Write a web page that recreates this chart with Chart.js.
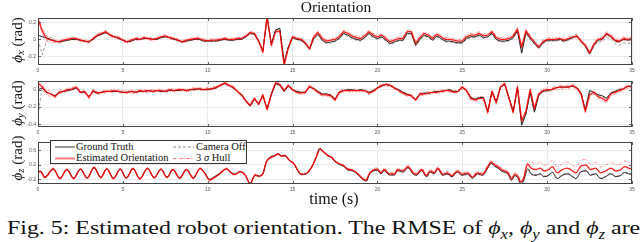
<!DOCTYPE html>
<html><head><meta charset="utf-8">
<script src="https://cdn.jsdelivr.net/npm/chart.js@4"></script>
<style>
html,body{margin:0;padding:0;background:#fff;}
body{width:640px;height:242px;position:relative;overflow:hidden;font-family:"Liberation Serif","DejaVu Serif",serif;color:#111;}
canvas{position:absolute;left:0;}
.t{position:absolute;white-space:nowrap;line-height:1;}
.yl{position:absolute;white-space:nowrap;line-height:1;font-size:15px;transform:translate(-50%,-50%) rotate(-90deg);}
.yl sub{font-size:72%;vertical-align:-0.25em;}
#leg{position:absolute;left:50px;top:140px;width:195px;height:22px;border:1px solid #333;background:#fff;}
#leg .it{position:absolute;font-size:10.5px;line-height:12px;white-space:nowrap;}
#leg svg{position:absolute;}
</style>
</head><body>
<canvas id="c1" width="640" height="64" style="top:12px"></canvas>
<canvas id="c2" width="640" height="61" style="top:76px"></canvas>
<canvas id="c3" width="640" height="57" style="top:137px"></canvas>

<div class="t" id="title" style="left:336px;top:-1px;font-size:15.5px;transform:translateX(-50%)">Orientation</div>
<div class="yl" style="left:18px;top:40px"><i>ϕ</i><sub><i>x</i></sub> (rad)</div>
<div class="yl" style="left:18px;top:103px"><i>ϕ</i><sub><i>y</i></sub> (rad)</div>
<div class="yl" style="left:18px;top:158px"><i>ϕ</i><sub><i>z</i></sub> (rad)</div>
<div class="t" id="xlab" style="left:334px;top:191px;font-size:16px;transform:translateX(-50%)">time (s)</div>
<div class="t" id="cap" style="left:7px;top:218px;font-size:19.5px;transform:scaleX(1.225);transform-origin:0 0">Fig. 5: Estimated robot orientation. The RMSE of <i>ϕ<sub style="font-size:70%">x</sub></i>, <i>ϕ<sub style="font-size:70%">y</sub></i> and <i>ϕ<sub style="font-size:70%">z</sub></i> are</div>

<div id="leg">
  <svg style="left:4px;top:5px" width="20" height="2"><line x1="0" y1="1" x2="20" y2="1" stroke="#333" stroke-width="1"/></svg>
  <div class="it" style="left:25px;top:0px">Ground Truth</div>
  <svg style="left:122px;top:5px" width="21" height="2"><line x1="0" y1="1" x2="21" y2="1" stroke="#888" stroke-width="1" stroke-dasharray="3,2"/></svg>
  <div class="it" style="left:145px;top:0px">Camera Off</div>
  <svg style="left:4px;top:16px" width="20" height="3"><line x1="0" y1="1.5" x2="20" y2="1.5" stroke="rgba(255,40,40,0.6)" stroke-width="2"/></svg>
  <div class="it" style="left:25px;top:11px">Estimated Orientation</div>
  <svg style="left:122px;top:16px" width="21" height="3"><line x1="0" y1="1.5" x2="21" y2="1.5" stroke="rgba(255,60,60,0.75)" stroke-width="1" stroke-dasharray="3,1.5,1,1.5"/></svg>
  <div class="it" style="left:145px;top:11px">3 <i>σ</i> Hull</div>
</div>

<script>
// ---------- data ----------
const T = [0,0.25,0.5,0.75, 1,1.25,1.5,1.75, 2,2.25,2.5,2.75, 3,3.25,3.5,3.75, 4,4.25,4.5,4.75,
 5,5.25,5.5,5.75, 6,6.25,6.5,6.75, 7,7.25,7.5,7.75, 8,8.25,8.5,8.75, 9,9.25,9.5,9.75,
 10,10.25,10.5,10.75, 11,11.25,11.5,11.75, 12,12.25,12.5,12.75, 13,13.25,13.5,13.75, 14,14.25,14.5,14.75,
 15,15.25,15.5,15.75, 16,16.25,16.5,16.75, 17,17.25,17.5,17.75, 18,18.25,18.5,18.75, 19,19.25,19.5,19.75,
 20,20.25,20.5,20.75, 21,21.25,21.5,21.75, 22,22.25,22.5,22.75, 23,23.25,23.5,23.75, 24,24.25,24.5,24.75,
 25,25.25,25.5,25.75, 26,26.25,26.5,26.75, 27,27.25,27.5,27.75, 28,28.25,28.5,28.75, 29,29.25,29.5,29.75,
 30,30.25,30.5,30.75, 31,31.25,31.5,31.75, 32,32.25,32.5,32.75, 33,33.25,33.5,33.75, 34,34.25,34.5,34.75, 35];

const PHIX_EST = [0.24,0.10,0.01,-0.01, -0.02,-0.03,-0.01,0.00, 0.01,0.01,-0.01,-0.02, -0.03,0.01,0.05,0.07,
 0.09,0.05,0.03,0.02, -0.01,-0.03,-0.01,0.01, 0.00,0.02,0.01,0.00, 0.01,0.03,0.04,0.02, 0.01,-0.01,-0.03,-0.01,
 0.00,0.01,0.01,-0.01, -0.015,-0.01,-0.01,0.00, 0.01,0.00,0.00,0.01, 0.01,0.04,0.08,0.07, -0.02,-0.15,0.27,-0.07,
 0.09,0.10,-0.30,-0.10, 0.03,0.01,0.00,-0.04, -0.11,0.03,0.08,0.01, -0.02,-0.01,0.00,0.03, 0.09,0.07,0.04,0.02,
 0.01,0.04,0.09,0.05, 0.03,0.05,0.01,-0.03, -0.01,0.01,0.01,0.09, 0.09,-0.05,0.02,0.07, 0.05,0.01,0.06,0.03,
 0.00,0.00,-0.01,-0.02, -0.02,0.03,0.05,0.05, 0.07,0.04,0.05,0.09, 0.02,0.00,0.00,0.01, 0.04,0.12,-0.09,0.10,
 0.03,-0.03,-0.09,-0.03, 0.00,0.00,0.00,0.01, -0.01,0.01,0.03,0.04, -0.02,-0.07,-0.16,-0.06, 0.00,0.01,0.07,0.04,
 -0.01,-0.02,0.01,0.00, 0.01];
const PHIX_GT = [0.05,0.03,0.02,0.00, -0.02,-0.03,-0.02,-0.01, 0.00,0.00,-0.01,-0.02, -0.03,0.00,0.04,0.06,
 0.08,0.05,0.03,0.01, -0.01,-0.03,-0.02,0.00, 0.00,0.01,0.01,0.00, 0.00,0.02,0.03,0.02, 0.00,-0.01,-0.03,-0.02,
 -0.01,0.00,0.00,-0.02, -0.02,-0.02,-0.02,-0.01, 0.00,-0.01,-0.01,0.00, 0.00,0.03,0.07,0.06, -0.02,-0.13,0.26,-0.05,
 0.11,0.13,-0.27,-0.09, 0.02,0.00,-0.01,-0.05, -0.11,0.01,0.06,-0.01, -0.04,-0.03,-0.02,0.01, 0.07,0.05,0.02,0.00,
 -0.01,0.02,0.07,0.03, 0.01,0.03,-0.01,-0.05, -0.03,-0.01,-0.01,0.07, 0.07,-0.07,0.00,0.05, 0.03,-0.01,0.04,0.01,
 -0.02,-0.02,-0.03,-0.04, -0.04,0.01,0.03,0.03, 0.05,0.02,0.03,0.07, 0.00,-0.02,-0.02,-0.01, 0.02,0.10,-0.16,0.08,
 0.01,-0.05,-0.10,-0.04, -0.01,-0.01,-0.01,0.00, -0.02,0.00,0.02,0.04, -0.02,-0.08,-0.17,-0.07, -0.01,0.00,0.06,0.03,
 -0.02,-0.03,0.00,-0.01, 0.00];
const PHIX_CAM = [0.00,-0.18,-0.02,0.03, -0.02,-0.03,-0.02,-0.01, 0.00,0.00,-0.01,-0.02, -0.03,0.00,0.04,0.06,
 0.08,0.05,0.03,0.01, -0.01,-0.03,-0.02,0.00, 0.00,0.01,0.01,0.00, 0.00,0.02,0.03,0.02, 0.00,-0.01,-0.03,-0.02,
 -0.01,0.00,0.00,-0.02, -0.02,-0.02,-0.02,-0.01, 0.00,-0.01,-0.01,0.00, 0.00,0.03,0.07,0.06, -0.02,-0.13,0.25,-0.05,
 0.11,0.13,-0.26,-0.09, 0.02,0.00,-0.01,-0.05, -0.12,0.00,0.05,-0.02, -0.05,-0.04,-0.03,0.00, 0.06,0.04,0.01,-0.01,
 -0.02,0.01,0.06,0.02, 0.00,0.02,-0.02,-0.06, -0.04,-0.02,-0.02,0.06, 0.06,-0.08,-0.01,0.04, 0.02,-0.02,0.03,0.00,
 -0.03,-0.03,-0.04,-0.05, -0.05,0.00,0.02,0.02, 0.04,0.01,0.02,0.06, -0.01,-0.03,-0.03,-0.02, 0.01,0.09,-0.17,0.07,
 0.00,-0.06,-0.11,-0.05, -0.02,-0.02,-0.02,-0.01, -0.03,-0.01,0.01,0.03, -0.03,-0.09,-0.18,-0.09, -0.03,-0.03,0.03,0.00,
 -0.05,-0.07,-0.04,-0.05, -0.04];
const PHIX_HULL = [0.03,0.015,0.015,0.015,0.015,0.015,0.015,0.015,0.015,0.015,0.015,0.015,0.015,0.015,0.015,0.015,
 0.02,0.02,0.02,0.02,0.02,0.02,0.02,0.02,0.02,0.02,0.02,0.02,0.02,0.02,0.02,0.02,0.02,0.02,0.02,0.02];

const PHIY_EST = [0.08,0.03,-0.03,-0.05, -0.08,-0.03,-0.02,0.00, 0.01,0.03,-0.03,-0.02, -0.09,-0.01,-0.04,-0.03,
 -0.02,-0.02,-0.01,-0.02, -0.03,-0.03,-0.02,-0.03, -0.01,-0.02,-0.01,-0.02, -0.01,-0.01,-0.02,0.00, -0.01,0.00,0.00,-0.01,
 0.00,0.01,0.01,0.00, 0.01,0.01,0.03,0.05, 0.08,0.05,0.03,-0.02, -0.06,-0.13,-0.18,-0.10, -0.17,-0.06,-0.23,-0.05,
 0.08,0.06,-0.01,0.05, 0.00,-0.03,-0.04,-0.03, 0.04,0.01,-0.03,-0.06, -0.06,-0.07,-0.12,-0.03, -0.01,-0.01,-0.01,-0.01,
 -0.01,-0.01,-0.04,-0.02, 0.02,0.05,0.06,0.05, 0.02,-0.01,-0.04,-0.06, -0.07,-0.12,-0.05,-0.05, -0.04,-0.03,-0.03,-0.02,
 -0.01,-0.01,-0.03,-0.02, 0.03,-0.01,-0.10,-0.12, -0.10,-0.10,-0.26,-0.02, -0.15,0.03,0.07,-0.10, -0.26,0.03,-0.36,-0.25,
 0.00,-0.22,-0.05,-0.01, 0.00,0.00,0.02,0.03, 0.03,0.03,0.05,0.02, -0.05,-0.25,-0.06,-0.03, -0.08,-0.10,-0.13,-0.05,
 -0.03,-0.01,0.01,0.04, 0.03];
const PHIY_GT = [0.00,0.02,-0.03,-0.05, -0.07,-0.03,-0.02,-0.01, 0.00,0.02,-0.03,-0.03, -0.08,-0.02,-0.04,-0.03,
 -0.02,-0.02,-0.02,-0.02, -0.03,-0.03,-0.02,-0.03, -0.02,-0.02,-0.01,-0.02, -0.01,-0.02,-0.02,-0.01, -0.01,-0.01,0.00,-0.01,
 0.00,0.00,0.01,0.00, 0.00,0.01,0.02,0.05, 0.07,0.05,0.02,-0.02, -0.06,-0.13,-0.19,-0.11, -0.16,-0.07,-0.22,-0.06,
 0.07,0.05,-0.02,0.04, 0.00,-0.02,-0.03,-0.03, 0.03,0.01,-0.02,-0.05, -0.05,-0.06,-0.11,-0.03, -0.01,0.00,0.00,-0.01,
 0.00,-0.01,-0.03,-0.01, 0.02,0.04,0.06,0.05, 0.02,0.00,-0.03,-0.05, -0.07,-0.11,-0.05,-0.04, -0.04,-0.03,-0.02,-0.02,
 -0.01,0.00,-0.02,-0.02, 0.03,-0.01,-0.09,-0.11, -0.09,-0.09,-0.25,-0.02, -0.14,0.03,0.06,-0.09, -0.25,0.02,-0.41,-0.28,
 -0.03,-0.26,-0.07,-0.02, -0.01,0.00,0.02,0.03, 0.03,0.03,0.04,0.02, -0.04,-0.23,-0.01,-0.03, -0.06,-0.07,-0.10,-0.04,
 -0.02,0.00,0.01,0.04, 0.04];
const PHIY_CAM = [-0.30,0.04,-0.02,-0.05, -0.07,-0.03,-0.02,-0.01, 0.00,0.02,-0.03,-0.03, -0.08,-0.02,-0.04,-0.03,
 -0.02,-0.02,-0.02,-0.02, -0.03,-0.03,-0.02,-0.03, -0.02,-0.02,-0.01,-0.02, -0.01,-0.02,-0.02,-0.01, -0.01,-0.01,0.00,-0.01,
 0.00,0.00,0.01,0.00, 0.00,0.01,0.02,0.05, 0.07,0.05,0.02,-0.02, -0.06,-0.13,-0.19,-0.11, -0.16,-0.07,-0.22,-0.06,
 0.07,0.05,-0.02,0.04, 0.00,-0.02,-0.03,-0.03, 0.03,0.01,-0.02,-0.05, -0.05,-0.06,-0.11,-0.03, -0.01,0.00,0.00,-0.01,
 0.00,-0.01,-0.03,-0.01, 0.02,0.04,0.06,0.05, 0.02,0.00,-0.03,-0.05, -0.07,-0.11,-0.05,-0.04, -0.04,-0.03,-0.02,-0.02,
 -0.01,0.00,-0.02,-0.02, 0.03,-0.01,-0.09,-0.11, -0.09,-0.09,-0.25,-0.02, -0.14,0.03,0.06,-0.09, -0.25,0.02,-0.41,-0.28,
 -0.03,-0.26,-0.07,-0.02, -0.01,0.00,0.02,0.03, 0.03,0.03,0.04,0.02, -0.04,-0.23,-0.01,-0.03, -0.06,-0.07,-0.10,-0.04,
 -0.02,0.00,0.01,0.04, 0.04];
const PHIY_HULL = [0.03,0.015,0.015,0.015,0.015,0.015,0.015,0.015,0.015,0.015,0.015,0.015,0.015,0.015,0.015,0.015,
 0.015,0.015,0.015,0.015,0.015,0.015,0.015,0.015,0.015,0.02,0.02,0.02,0.02,0.02,0.02,0.02,0.02,0.02,0.02,0.02];

const T3 = [0,0.15,0.4,0.9,1.3,1.7,2.1,2.5,2.9,3.3,
 3.7,4.05,4.45,4.85,5.2,5.6,6.0,6.45,6.85,7.25,
 7.6,7.95,8.35,8.75,9.15,9.55,9.85,10.1,10.4,10.7,
 11.1,11.4,11.6,11.9,12.2,12.5,12.8,13.0,13.25,13.45,
 13.75,13.95,14.15,14.35,14.55,14.8,15.1,15.3,15.5,15.8,
 16.1,16.4,16.6,16.8,17.1,17.3,17.5,17.8,18.0,18.25,
 18.55,18.85,19.1,19.35,19.5,19.8,20.0,20.2,20.4,20.7,
 21.0,21.2,21.5,21.8,22.1,22.3,22.6,22.9,23.1,23.35,
 23.55,23.85,24.1,24.4,24.7,25.0,25.3,25.6,25.9,26.2,
 26.5,26.7,26.9,27.1,27.3,27.5,27.7,27.9,28.1,28.25,
 28.45,28.6,28.85,29.05,29.35,29.6,29.8,30.1,30.3,30.6,
 30.9,31.2,31.5,31.7,32.0,32.3,32.55,32.85,33.15,33.45,
 33.75,34.05,34.35,34.55,34.8,35.0];
const PHIZ_EST = [0.00,0.02,-0.15,0.09,-0.18,0.07,-0.18,0.08,-0.17,0.13,
 -0.15,0.09,-0.18,0.08,-0.17,0.10,-0.19,0.10,-0.16,0.08,
 -0.15,0.07,-0.17,0.07,-0.17,0.10,-0.05,-0.22,-0.15,-0.05,
 0.09,-0.03,-0.07,0.01,-0.08,-0.32,-0.08,-0.12,-0.05,0.28,
 0.41,0.45,0.50,0.44,0.46,0.33,0.22,0.05,-0.06,-0.04,
 0.12,0.42,0.64,0.57,0.45,0.41,0.30,0.22,0.18,0.08,
 0.05,-0.05,-0.17,-0.22,-0.06,0.07,0.08,-0.02,0.07,-0.05,
 -0.05,0.07,0.03,0.15,-0.02,-0.06,0.07,-0.10,0.03,-0.02,
 0.11,-0.06,-0.02,-0.10,0.03,-0.06,-0.02,-0.14,-0.02,-0.06,
 0.15,0.28,0.20,0.15,0.07,0.03,-0.02,-0.19,-0.06,-0.10,
 -0.27,-0.19,0.22,0.11,0.07,0.11,0.03,0.07,0.15,-0.02,
 0.07,0.11,0.03,-0.02,0.17,0.19,0.07,0.11,-0.02,0.03,
 0.11,0.03,0.07,0.15,0.11,0.09];
const PHIZ_GT = [0.01,0.02,-0.14,0.09,-0.17,0.07,-0.17,0.08,-0.16,0.12,
 -0.15,0.09,-0.17,0.08,-0.16,0.09,-0.18,0.10,-0.15,0.08,
 -0.14,0.07,-0.16,0.07,-0.16,0.10,-0.04,-0.20,-0.13,-0.04,
 0.09,-0.02,-0.06,0.01,-0.07,-0.31,-0.08,-0.11,-0.05,0.27,
 0.43,0.46,0.50,0.45,0.45,0.33,0.21,0.04,-0.07,-0.05,
 0.11,0.42,0.65,0.57,0.44,0.40,0.29,0.20,0.16,0.06,
 0.03,-0.07,-0.19,-0.25,-0.09,0.04,0.05,-0.05,0.04,-0.08,
 -0.08,0.04,0.00,0.12,-0.05,-0.09,0.04,-0.13,0.00,-0.05,
 0.08,-0.09,-0.05,-0.13,0.00,-0.09,-0.05,-0.17,-0.05,-0.09,
 0.11,0.24,0.16,0.11,0.03,-0.01,-0.06,-0.23,-0.10,-0.14,
 -0.32,-0.25,0.08,-0.05,-0.09,-0.05,-0.13,-0.09,-0.01,-0.18,
 -0.09,-0.05,-0.13,-0.18,0.01,0.03,-0.09,-0.05,-0.18,-0.13,
 -0.05,-0.13,-0.09,-0.01,-0.05,-0.07];
const PHIZ_CAM = [0.01,0.02,-0.14,0.09,-0.17,0.07,-0.17,0.08,-0.16,0.12,
 -0.15,0.09,-0.17,0.08,-0.16,0.09,-0.18,0.10,-0.15,0.08,
 -0.14,0.07,-0.16,0.07,-0.16,0.10,-0.04,-0.20,-0.13,-0.04,
 0.09,-0.02,-0.06,0.01,-0.07,-0.31,-0.08,-0.11,-0.05,0.27,
 0.43,0.46,0.50,0.45,0.45,0.33,0.21,0.04,-0.07,-0.05,
 0.11,0.42,0.65,0.57,0.44,0.40,0.29,0.20,0.16,0.06,
 0.04,-0.06,-0.18,-0.24,-0.08,0.05,0.06,-0.04,0.05,-0.07,
 -0.07,0.05,0.01,0.13,-0.04,-0.08,0.05,-0.12,0.01,-0.04,
 0.09,-0.08,-0.04,-0.12,0.01,-0.08,-0.04,-0.16,-0.04,-0.08,
 0.12,0.25,0.17,0.12,0.04,0.00,-0.05,-0.22,-0.09,-0.13,
 -0.31,-0.24,0.10,-0.03,-0.07,-0.03,-0.11,-0.07,0.01,-0.16,
 -0.07,-0.03,-0.11,-0.16,0.03,0.05,-0.07,-0.03,-0.16,-0.11,
 -0.03,-0.11,-0.07,0.01,-0.03,-0.05];
const PHIZ_HULL = [0.03,0.02,0.02,0.02,0.02,0.02,0.02,0.02,0.02,0.02,0.02,0.02,0.02,0.02,0.02,0.02,0.02,0.02,0.02,
 0.03,0.04,0.04,0.04,0.04,0.04,0.04,0.04,0.04,0.04,0.16,0.16,0.16,0.16,0.16,0.16,0.16];

const X_TICKS = [0,5,10,15,20,25,30,35];
const X_LABELS = ['0','5','10','15','20','25','30','35'];
const Y1_TICKS = [-0.2,0,0.2];
const Y2_TICKS = [-0.4,-0.2,0];
const Y3_TICKS = [-0.2,0,0.2,0.4,0.6,0.8];

// ---------- drawing ----------
const frame = {
  id:'frame',
  afterDatasetsDraw(chart){
    const {ctx, chartArea:a, scales} = chart;
    ctx.save();
    ctx.strokeStyle = '#555'; ctx.lineWidth = 0.9;
    ctx.beginPath();
    scales.x.ticks.forEach(t=>{
      const x = Math.round(scales.x.getPixelForValue(t.value))+0.5;
      ctx.moveTo(x,a.top); ctx.lineTo(x,a.top+3);
      ctx.moveTo(x,a.bottom); ctx.lineTo(x,a.bottom-3);
    });
    scales.y.ticks.forEach(t=>{
      const y = Math.round(scales.y.getPixelForValue(t.value))+0.5;
      ctx.moveTo(a.left,y); ctx.lineTo(a.left+3,y);
      ctx.moveTo(a.right,y); ctx.lineTo(a.right-3,y);
    });
    ctx.stroke();
    ctx.strokeStyle = '#444'; ctx.lineWidth = 1;
    ctx.strokeRect(Math.round(a.left)+0.5, Math.round(a.top)+0.5, Math.round(a.right-a.left)-1, Math.round(a.bottom-a.top)-1);
    ctx.restore();
  }
};

function panel(id, padTop, axisH, times, est, gt, cam, hull, yMin, yMax, yTicks, smooth){
  const pts = arr => times.map((t,i)=>({x:t, y:arr[i]}));
  const hw = t => hull[Math.min(hull.length-1, Math.floor(t))];
  const up = times.map((t,i)=>({x:t, y:est[i]+hw(t)}));
  const lo = times.map((t,i)=>({x:t, y:est[i]-hw(t)}));
  const base = {pointRadius:0, fill:false, tension:0, cubicInterpolationMode: smooth?'monotone':'default', borderJoinStyle:'round'};
  new Chart(document.getElementById(id), {
    type:'line',
    data:{datasets:[
      Object.assign({data:pts(est), borderColor:'rgba(255,0,0,0.9)', borderWidth:1.3, order:0}, base),
      Object.assign({data:pts(gt), borderColor:'#2a2a2a', borderWidth:1, order:1}, base),
      Object.assign({data:pts(cam), borderColor:'#8a8a8a', borderWidth:0.8, borderDash:[3,2], order:2}, base),
      Object.assign({data:up, borderColor:'rgba(255,80,80,0.75)', borderWidth:0.8, borderDash:[3,1.5,1,1.5], order:3}, base),
      Object.assign({data:lo, borderColor:'rgba(255,80,80,0.75)', borderWidth:0.8, borderDash:[3,1.5,1,1.5], order:3}, base)
    ]},
    options:{
      responsive:false, animation:false, devicePixelRatio:1,
      layout:{padding:{top:padTop, right:8, left:0, bottom:0}},
      plugins:{legend:{display:false}, tooltip:{enabled:false}},
      scales:{
        x:{type:'linear', min:0, max:35,
          afterBuildTicks:s=>{ s.ticks = X_TICKS.map(v=>({value:v})); },
          afterFit:s=>{ s.height = axisH; },
          ticks:{font:{family:'Liberation Sans', size:5}, color:'#555', padding:3, maxRotation:0, autoSkip:false,
                 callback:(v)=>X_LABELS[X_TICKS.indexOf(v)]},
          grid:{color:'#e4e4e4', lineWidth:0.8, drawTicks:false},
          border:{display:false}},
        y:{type:'linear', min:yMin, max:yMax,
          afterBuildTicks:s=>{ s.ticks = yTicks.map(v=>({value:v})); },
          afterFit:s=>{ s.width = 38; },
          ticks:{font:{family:'Liberation Sans', size:5}, color:'#555', padding:2,
                 callback:(v)=>String(v)},
          grid:{color:'#e4e4e4', lineWidth:0.8, drawTicks:false},
          border:{display:false}}
      }
    },
    plugins:[frame]
  });
}

panel('c1', 6, 11, T, PHIX_EST, PHIX_GT, PHIX_CAM, PHIX_HULL, -0.3, 0.25, Y1_TICKS, false);
panel('c2', 5, 10, T, PHIY_EST, PHIY_GT, PHIY_CAM, PHIY_HULL, -0.43, 0.1, Y2_TICKS, false);
panel('c3', 2, 10, T3, PHIZ_EST, PHIZ_GT, PHIZ_CAM, PHIZ_HULL, -0.33, 0.83, Y3_TICKS, true);
</script>
</body></html>
